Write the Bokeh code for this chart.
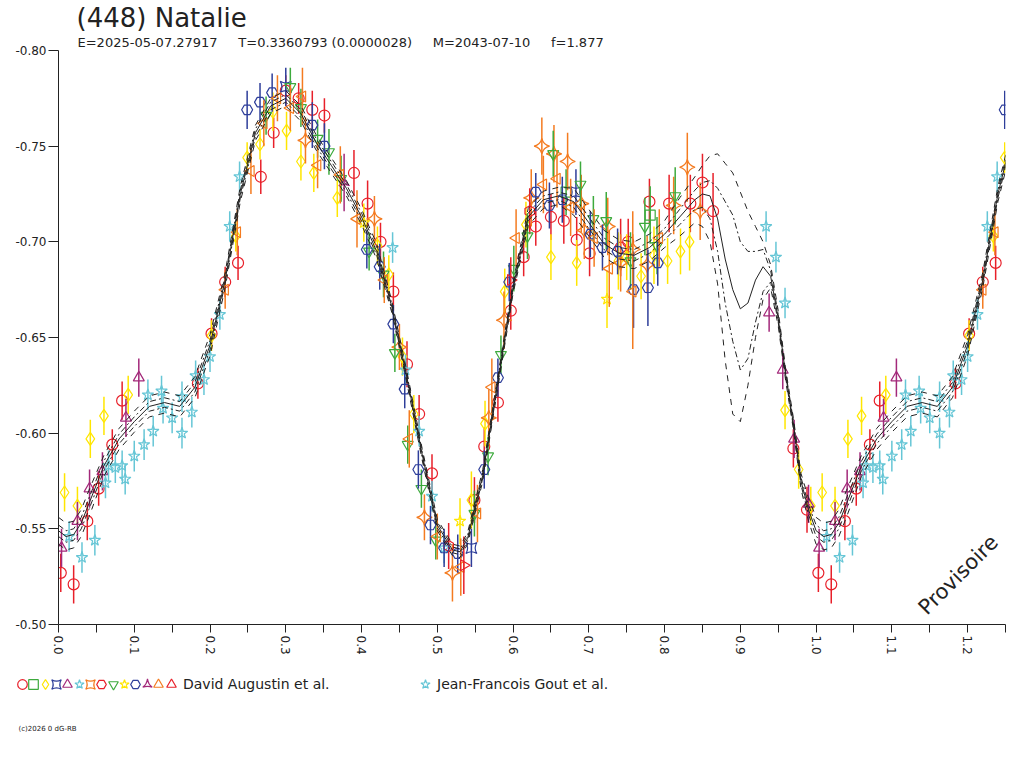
from math import pi

from bokeh.embed import file_html
from bokeh.models import FixedTicker, Label, Legend, LegendItem, PrintfTickFormatter, Range1d, Title
from bokeh.plotting import figure
from bokeh.resources import INLINE

# ---- header texts ----
title_text = "(448) Natalie"
header = ["E=2025-05-07.27917", "T=0.3360793 (0.0000028)", "M=2043-07-10", "f=1.877"]
observers = ["David Augustin et al.", "Jean-Francois Gout et al."]
copyright_text = "(c)2026 0 dG-RB"

# ---- axes ----
x_ticks = [0.0, 0.1, 0.2, 0.3, 0.4, 0.5, 0.6, 0.7, 0.8, 0.9, 1.0, 1.1, 1.2]
x_minor = [0.05, 0.15, 0.25, 0.35, 0.45, 0.55, 0.65, 0.75, 0.85, 0.95, 1.05, 1.15, 1.25]
y_ticks = [-0.80, -0.75, -0.70, -0.65, -0.60, -0.55, -0.50]

# ---- fitted light curve (phase, magnitude) and its uncertainty bands ----
ph_fit = [0.00, 0.01, 0.02, 0.03, 0.04, 0.06, 0.08, 0.10, 0.12, 0.14, 0.16, 0.18, 0.20,
          0.22, 0.24, 0.26, 0.28, 0.30, 0.32, 0.34, 0.36, 0.38, 0.40, 0.42, 0.44, 0.46,
          0.48, 0.50, 0.52, 0.53, 0.54, 0.56, 0.58, 0.60, 0.62, 0.64, 0.66, 0.68, 0.70,
          0.72, 0.74, 0.76, 0.78, 0.80, 0.82, 0.84, 0.85, 0.86, 0.87, 0.88, 0.89, 0.90,
          0.91, 0.92, 0.93, 0.94, 0.95, 0.96, 0.97, 0.98, 0.99, 1.00]
fit = [-0.549, -0.546, -0.547, -0.553, -0.563, -0.583, -0.597, -0.606, -0.614, -0.616,
       -0.614, -0.624, -0.646, -0.680, -0.725, -0.757, -0.771, -0.775, -0.767, -0.752,
       -0.740, -0.728, -0.713, -0.695, -0.666, -0.629, -0.589, -0.552, -0.539, -0.538,
       -0.545, -0.578, -0.627, -0.676, -0.713, -0.722, -0.724, -0.721, -0.710, -0.699,
       -0.694, -0.693, -0.697, -0.704, -0.713, -0.722, -0.725, -0.724, -0.712, -0.691,
       -0.675, -0.665, -0.668, -0.680, -0.687, -0.682, -0.660, -0.630, -0.605, -0.575,
       -0.560, -0.549]
in_up = [0.003, 0.003, 0.003, 0.003, 0.003, 0.0025, 0.0025, 0.0025, 0.0025, 0.0025,
         0.0025, 0.0025, 0.0025, 0.002, 0.002, 0.002, 0.002, 0.002, 0.002, 0.002,
         0.002, 0.002, 0.002, 0.002, 0.0015, 0.0015, 0.0015, 0.0015, 0.0015, 0.0015,
         0.0015, 0.0015, 0.0015, 0.0015, 0.002, 0.002, 0.002, 0.003, 0.003, 0.003,
         0.003, 0.003, 0.003, 0.003, 0.004, 0.005, 0.006, 0.008, 0.016, 0.030,
         0.039, 0.035, 0.027, 0.015, 0.009, 0.003, 0.002, 0.0015, 0.0015, 0.002,
         0.0025, 0.003]
in_dn = [0.003, 0.003, 0.003, 0.003, 0.003, 0.0025, 0.0025, 0.0025, 0.0025, 0.0025,
         0.0025, 0.0025, 0.0025, 0.002, 0.002, 0.002, 0.002, 0.002, 0.002, 0.002,
         0.002, 0.002, 0.002, 0.002, 0.0015, 0.0015, 0.0015, 0.0015, 0.0015, 0.0015,
         0.0015, 0.0015, 0.0015, 0.0015, 0.002, 0.002, 0.002, 0.003, 0.003, 0.003,
         0.003, 0.003, 0.003, 0.003, 0.004, 0.005, 0.007, 0.012, 0.017, 0.023,
         0.027, 0.032, 0.029, 0.022, 0.013, 0.003, 0.002, 0.0015, 0.0015, 0.002,
         0.0025, 0.003]
out_up = [0.007, 0.007, 0.007, 0.007, 0.007, 0.0055, 0.0055, 0.0055, 0.0055, 0.0055,
          0.0055, 0.0055, 0.0055, 0.004, 0.004, 0.004, 0.004, 0.004, 0.004, 0.004,
          0.004, 0.004, 0.004, 0.004, 0.003, 0.003, 0.003, 0.003, 0.003, 0.003,
          0.003, 0.003, 0.003, 0.003, 0.0045, 0.0045, 0.0045, 0.007, 0.007, 0.007,
          0.007, 0.007, 0.007, 0.007, 0.010, 0.012, 0.015, 0.021, 0.034, 0.050,
          0.061, 0.061, 0.048, 0.028, 0.013, 0.006, 0.004, 0.003, 0.003, 0.004,
          0.006, 0.007]
out_dn = [0.007, 0.007, 0.007, 0.007, 0.007, 0.0055, 0.0055, 0.0055, 0.0055, 0.0055,
          0.0055, 0.0055, 0.0055, 0.004, 0.004, 0.004, 0.004, 0.004, 0.004, 0.004,
          0.004, 0.004, 0.004, 0.004, 0.003, 0.003, 0.003, 0.003, 0.003, 0.003,
          0.003, 0.003, 0.003, 0.003, 0.0045, 0.0045, 0.0045, 0.007, 0.007, 0.007,
          0.007, 0.007, 0.007, 0.007, 0.010, 0.012, 0.017, 0.024, 0.034, 0.053,
          0.065, 0.059, 0.043, 0.030, 0.017, 0.006, 0.004, 0.003, 0.003, 0.004,
          0.006, 0.007]

# ---- observations: (phase, magnitude, error) per session ----
red_circle = [
    (0.003, -0.527, 0.010), (0.020, -0.521, 0.010), (0.038, -0.554, 0.010), (0.053, -0.571, 0.009),
    (0.071, -0.594, 0.008), (0.084, -0.617, 0.010), (0.184, -0.626, 0.008), (0.202, -0.652, 0.008),
    (0.220, -0.679, 0.008), (0.237, -0.689, 0.009), (0.267, -0.734, 0.009), (0.284, -0.757, 0.008),
    (0.300, -0.779, 0.008), (0.317, -0.775, 0.008), (0.335, -0.769, 0.010), (0.351, -0.766, 0.009),
    (0.390, -0.736, 0.012), (0.408, -0.720, 0.012), (0.425, -0.700, 0.010), (0.442, -0.674, 0.010),
    (0.460, -0.636, 0.012), (0.476, -0.610, 0.010), (0.493, -0.579, 0.010), (0.549, -0.565, 0.012),
    (0.562, -0.593, 0.010), (0.580, -0.616, 0.010), (0.597, -0.664, 0.010), (0.614, -0.692, 0.010),
    (0.630, -0.708, 0.010), (0.650, -0.713, 0.012), (0.667, -0.711, 0.012), (0.684, -0.701, 0.012),
    (0.701, -0.694, 0.012), (0.742, -0.697, 0.015), (0.752, -0.700, 0.012), (0.780, -0.721, 0.012),
    (0.806, -0.720, 0.015), (0.834, -0.720, 0.015), (0.850, -0.731, 0.015), (0.864, -0.716, 0.020),
    (0.970, -0.592, 0.010), (0.988, -0.560, 0.012)]
green_square = [(0.670, -0.726, 0.012), (0.781, -0.714, 0.015)]
yellow_diamond = [
    (0.008, -0.569, 0.010), (0.025, -0.562, 0.010), (0.042, -0.597, 0.010), (0.060, -0.609, 0.010),
    (0.092, -0.620, 0.010), (0.202, -0.651, 0.008), (0.234, -0.703, 0.008), (0.249, -0.744, 0.008),
    (0.266, -0.751, 0.008), (0.283, -0.768, 0.010), (0.301, -0.758, 0.010), (0.320, -0.742, 0.010),
    (0.337, -0.736, 0.010), (0.368, -0.723, 0.010), (0.421, -0.698, 0.010), (0.436, -0.683, 0.010),
    (0.454, -0.640, 0.010), (0.469, -0.610, 0.010), (0.545, -0.565, 0.015), (0.563, -0.605, 0.012),
    (0.589, -0.674, 0.012), (0.617, -0.709, 0.012), (0.650, -0.692, 0.012), (0.684, -0.689, 0.012),
    (0.739, -0.690, 0.015), (0.750, -0.692, 0.012), (0.769, -0.682, 0.012), (0.786, -0.693, 0.015),
    (0.804, -0.690, 0.012), (0.821, -0.695, 0.012), (0.833, -0.700, 0.015), (0.959, -0.612, 0.010),
    (0.977, -0.581, 0.010), (0.993, -0.562, 0.010)]
blue_pin = [(0.300, -0.781, 0.010), (0.545, -0.540, 0.010), (0.683, -0.726, 0.012)]
purple_triangle = [
    (0.004, -0.540, 0.010), (0.025, -0.554, 0.010), (0.041, -0.571, 0.010), (0.058, -0.580, 0.010),
    (0.089, -0.608, 0.010), (0.106, -0.629, 0.010), (0.938, -0.663, 0.010), (0.956, -0.633, 0.010),
    (0.971, -0.597, 0.010), (0.990, -0.563, 0.010)]
cyan_star = [(0.441, -0.697, 0.008), (0.458, -0.633, 0.008), (0.476, -0.601, 0.008),
             (0.493, -0.567, 0.008), (0.509, -0.540, 0.008)]
orange_sparkle = [
    (0.326, -0.753, 0.012), (0.417, -0.712, 0.012), (0.450, -0.645, 0.012), (0.483, -0.556, 0.012),
    (0.520, -0.527, 0.015), (0.568, -0.608, 0.015), (0.588, -0.659, 0.015), (0.624, -0.723, 0.015),
    (0.638, -0.750, 0.015), (0.654, -0.746, 0.015), (0.672, -0.742, 0.015), (0.690, -0.720, 0.015),
    (0.694, -0.706, 0.015), (0.725, -0.708, 0.015), (0.742, -0.689, 0.015), (0.758, -0.696, 0.020),
    (0.777, -0.688, 0.015), (0.812, -0.719, 0.015), (0.830, -0.739, 0.018), (0.847, -0.716, 0.015)]
red_pentagon = [(0.515, -0.541, 0.012), (0.622, -0.716, 0.012)]
green_down = [
    (0.274, -0.766, 0.010), (0.306, -0.781, 0.010), (0.320, -0.770, 0.010), (0.342, -0.754, 0.010),
    (0.357, -0.747, 0.012), (0.373, -0.733, 0.012), (0.410, -0.695, 0.010), (0.429, -0.683, 0.012),
    (0.444, -0.642, 0.010), (0.461, -0.594, 0.010), (0.479, -0.571, 0.010), (0.498, -0.544, 0.010),
    (0.549, -0.558, 0.012), (0.567, -0.588, 0.010), (0.584, -0.641, 0.010), (0.601, -0.686, 0.012),
    (0.619, -0.703, 0.012), (0.653, -0.746, 0.012), (0.689, -0.730, 0.012), (0.706, -0.712, 0.012),
    (0.723, -0.711, 0.015), (0.755, -0.690, 0.015), (0.774, -0.708, 0.015), (0.790, -0.698, 0.015),
    (0.814, -0.724, 0.015)]
yellow_star = [(0.403, -0.710, 0.010), (0.530, -0.554, 0.012), (0.724, -0.670, 0.015)]
blue_hex = [
    (0.249, -0.769, 0.010), (0.266, -0.773, 0.010), (0.282, -0.778, 0.010), (0.335, -0.761, 0.012),
    (0.351, -0.750, 0.012), (0.407, -0.696, 0.010), (0.424, -0.687, 0.012), (0.442, -0.657, 0.010),
    (0.457, -0.623, 0.010), (0.475, -0.581, 0.010), (0.491, -0.552, 0.010), (0.509, -0.540, 0.010),
    (0.527, -0.537, 0.010), (0.562, -0.581, 0.010), (0.580, -0.629, 0.010), (0.595, -0.679, 0.010),
    (0.630, -0.726, 0.010), (0.648, -0.719, 0.012), (0.665, -0.722, 0.012), (0.702, -0.704, 0.012),
    (0.718, -0.697, 0.012), (0.738, -0.695, 0.012), (0.759, -0.675, 0.020), (0.778, -0.676, 0.020),
    (0.791, -0.689, 0.012)]
purple_pin = [(0.377, -0.731, 0.015)]
orange_left = [
    (0.220, -0.675, 0.010), (0.236, -0.705, 0.012), (0.254, -0.737, 0.012), (0.271, -0.762, 0.012),
    (0.289, -0.775, 0.012), (0.306, -0.770, 0.012), (0.322, -0.776, 0.015), (0.342, -0.740, 0.012),
    (0.372, -0.735, 0.015), (0.394, -0.712, 0.015), (0.430, -0.680, 0.012), (0.463, -0.597, 0.015),
    (0.500, -0.546, 0.012), (0.531, -0.530, 0.015), (0.553, -0.558, 0.015), (0.572, -0.624, 0.015),
    (0.604, -0.702, 0.015), (0.640, -0.730, 0.015), (0.658, -0.733, 0.015), (0.676, -0.718, 0.015),
    (0.707, -0.702, 0.015), (0.727, -0.686, 0.020), (0.758, -0.674, 0.030), (0.793, -0.702, 0.015)]
red_right = [(0.535, -0.531, 0.015), (0.597, -0.680, 0.012)]
gout_star = [
    (0.014, -0.546, 0.008), (0.031, -0.535, 0.008), (0.048, -0.544, 0.008), (0.062, -0.574, 0.008),
    (0.066, -0.583, 0.008), (0.075, -0.582, 0.008), (0.084, -0.583, 0.008), (0.088, -0.576, 0.008),
    (0.100, -0.588, 0.008), (0.113, -0.594, 0.008), (0.125, -0.601, 0.008), (0.118, -0.620, 0.008),
    (0.136, -0.622, 0.008), (0.138, -0.613, 0.008), (0.150, -0.608, 0.008), (0.163, -0.600, 0.008),
    (0.163, -0.619, 0.008), (0.176, -0.611, 0.008), (0.181, -0.630, 0.008), (0.192, -0.628, 0.008),
    (0.200, -0.640, 0.008), (0.213, -0.662, 0.008), (0.226, -0.708, 0.008), (0.239, -0.734, 0.008),
    (0.934, -0.708, 0.008), (0.947, -0.692, 0.008), (0.959, -0.668, 0.008)]

RED, GREEN, YELLOW = "#E8202A", "#3DAA3D", "#FFE600"
BLUE, PURPLE, CYAN, ORANGE = "#2E3E9A", "#A3297A", "#66C6D6", "#F47B20"
FONT = "DejaVu Sans"
INK = "#222222"

sessions = [
    (red_circle, "circle", RED, 0.0, 11),
    (green_square, "square", GREEN, 0.0, 10),
    (yellow_diamond, "diamond", YELLOW, 0.0, 13),
    (blue_pin, "square_pin", BLUE, 0.0, 11),
    (purple_triangle, "triangle", PURPLE, 0.0, 11),
    (cyan_star, "star", CYAN, 0.0, 12),
    (orange_sparkle, "square_pin", ORANGE, pi / 4, 11),
    (red_pentagon, "hex", RED, pi / 2, 11),
    (green_down, "inverted_triangle", GREEN, 0.0, 11),
    (yellow_star, "star", YELLOW, 0.0, 12),
    (blue_hex, "hex", BLUE, 0.0, 11),
    (purple_pin, "triangle_pin", PURPLE, 0.0, 11),
    (orange_left, "triangle", ORANGE, pi / 2, 11),
    (red_right, "triangle", RED, -pi / 2, 11),
    (gout_star, "star", CYAN, 0.0, 12),
]


def wrap(points):
    # phases up to 0.25 are shown a second time after phase 1
    return list(points) + [(ph + 1.0, m, e) for ph, m, e in points if ph <= 0.25]


p = figure(width=1016, height=668, x_range=Range1d(0, 1.25), y_range=Range1d(-0.50, -0.80),
           output_backend="svg", toolbar_location=None,
           min_border_left=58, min_border_right=11, min_border_top=49, min_border_bottom=44)
p.xgrid.visible = False
p.ygrid.visible = False
p.outline_line_color = None

p.add_layout(Title(text="\u00a0\u00a0\u00a0\u00a0\u00a0".join(header), align="left", offset=19,
                   standoff=1, text_font=FONT, text_font_size="13px", text_font_style="normal",
                   text_color=INK), "above")
p.add_layout(Title(text=title_text, align="left", offset=18, standoff=0, text_font=FONT,
                   text_font_size="26px", text_font_style="normal", text_color=INK), "above")

p.xaxis.ticker = FixedTicker(ticks=x_ticks, minor_ticks=x_minor)
p.xaxis.formatter = PrintfTickFormatter(format="%.1f")
p.xaxis.major_label_orientation = -pi / 2
p.xaxis.major_tick_out = 8
p.xaxis.minor_tick_out = 8
p.xaxis.major_label_standoff = 3
p.yaxis.ticker = FixedTicker(ticks=y_ticks)
p.yaxis.formatter = PrintfTickFormatter(format="%.2f")
p.yaxis.major_tick_out = 10
p.yaxis.minor_tick_out = 0
p.yaxis.major_label_standoff = 2
for ax in (p.xaxis, p.yaxis):
    ax.major_tick_in = 0
    ax.minor_tick_in = 0
    ax.axis_line_color = INK
    ax.major_tick_line_color = INK
    ax.minor_tick_line_color = INK
    ax.major_label_text_font = FONT
    ax.major_label_text_font_size = "12px"
    ax.major_label_text_color = INK

for data, marker, color, angle, size in sessions:
    pts = wrap(data)
    xs = [q[0] for q in pts]
    ms = [q[1] for q in pts]
    es = [q[2] for q in pts]
    p.segment(x0=xs, y0=[m - e for m, e in zip(ms, es)], x1=xs, y1=[m + e for m, e in zip(ms, es)],
              line_color=color, line_width=1.5)
    p.scatter(x=xs, y=ms, marker=marker, size=size, angle=angle,
              fill_color=None, line_color=color, line_width=1.2)

# fitted curve and bands, repeated past phase 1
xs_fit = ph_fit + [ph + 1.0 for ph in ph_fit[1:] if ph <= 0.26]
idx = list(range(len(ph_fit))) + [i for i in range(1, len(ph_fit)) if ph_fit[i] <= 0.26]
curves = [
    ([fit[i] - out_up[i] for i in idx], "dashed"),
    ([fit[i] + out_dn[i] for i in idx], "dashed"),
    ([fit[i] - in_up[i] for i in idx], "6 3 2 3"),
    ([fit[i] + in_dn[i] for i in idx], "6 3 2 3"),
    ([fit[i] for i in idx], "solid"),
]
for ys, dash in curves:
    p.line(xs_fit, ys, line_color=INK, line_width=1, line_dash=dash)

p.add_layout(Label(x=1.140, y=-0.507, text="Provisoire", angle=pi / 4, text_font=FONT,
                   text_font_size="21px", text_color=INK, text_baseline="alphabetic"))

# ---- strip below the chart: observer legend and copyright ----
leg = figure(width=1016, height=92, x_range=Range1d(0, 1016), y_range=Range1d(0, 92),
             output_backend="svg", toolbar_location=None,
             min_border_left=0, min_border_right=0, min_border_top=0, min_border_bottom=0)
leg.axis.visible = False
leg.grid.visible = False
leg.outline_line_color = None

# legend keys: one marker per session, parked outside the visible strip
keys = []
for data, marker, color, angle, size in sessions:
    keys.append(leg.scatter(x=[-500], y=[-500], marker=marker, size=size, angle=angle,
                            fill_color=None, line_color=color, line_width=1.2))


def make_legend(items, x, standoff):
    lg = Legend(items=items, location=(x, 64), orientation="horizontal",
                glyph_width=24, glyph_height=24, label_standoff=standoff, spacing=0,
                padding=0, margin=0, border_line_color=None, background_fill_alpha=0,
                label_width=0, label_height=24, label_text_font=FONT,
                label_text_font_size="14px", label_text_color=INK)
    leg.add_layout(lg, "center")


# the Augustin sessions share one caption; their keys sit side by side
for i, r in enumerate(keys[:13]):
    make_legend([LegendItem(label="", renderers=[r])], round(10 + 11.33 * i), 0)
make_legend([LegendItem(label=observers[0], renderers=[keys[13]])], 159, -3)
make_legend([LegendItem(label=observers[1], renderers=[keys[14]])], 413, -1)

leg.add_layout(Label(x=18, y=32, text=copyright_text, text_font=FONT,
                     text_font_size="7px", text_color=INK, text_baseline="alphabetic"))

open("out.html", "w").write(file_html([p, leg], INLINE))
